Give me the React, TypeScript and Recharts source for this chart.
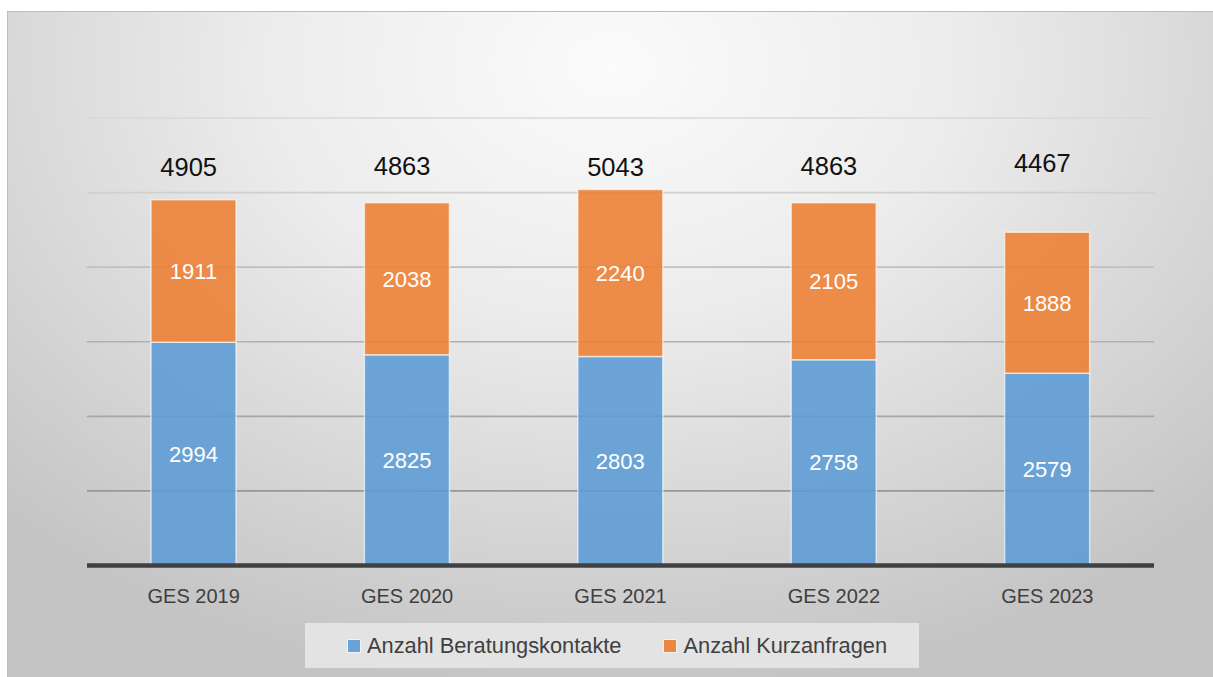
import React from "react";
import {
  ComposedChart,
  Bar,
  Line,
  XAxis,
  YAxis,
  CartesianGrid,
  LabelList,
  Legend,
} from "recharts";

const categories = ["GES 2019", "GES 2020", "GES 2021", "GES 2022", "GES 2023"];
const beratungskontakte = [2994, 2825, 2803, 2758, 2579];
const kurzanfragen = [1911, 2038, 2240, 2105, 1888];
const totals = [4905, 4863, 5043, 4863, 4467];
const totalLabelAnchor = [5350, 5355, 5345, 5355, 5395];
const yTicks = [0, 1000, 2000, 3000, 4000, 5000, 6000];

const SERIES_NAMES = ["Anzahl Beratungskontakte", "Anzahl Kurzanfragen"];
const COLORS = ["#5B9BD5", "#ED7D31"];

const data = categories.map((c, i) => ({
  name: c,
  beratung: beratungskontakte[i],
  kurz: kurzanfragen[i],
  total: totals[i],
  labelPos: totalLabelAnchor[i],
}));

const FONT = "'Liberation Sans', Arial, sans-serif";

const LegendContent = () => (
  <div
    style={{
      width: 614,
      height: 45,
      background: "#e3e3e3",
      display: "flex",
      alignItems: "center",
      boxSizing: "border-box",
      paddingLeft: 43,
      fontFamily: FONT,
      fontSize: 21.8,
      color: "#404040",
    }}
  >
    {SERIES_NAMES.map((n, i) => (
      <div
        key={n}
        style={{ display: "flex", alignItems: "center", marginRight: i === 0 ? 43 : 0 }}
      >
        <span
          style={{
            display: "inline-block",
            width: 12,
            height: 12,
            background: COLORS[i],
            opacity: 0.9,
            outline: "1px solid rgba(255,255,255,0.6)",
            marginRight: 7,
          }}
        />
        <span>{n}</span>
      </div>
    ))}
  </div>
);

export default function App() {
  return (
    <div
      style={{
        position: "absolute",
        left: 7,
        top: 11,
        width: 1206,
        height: 666,
        boxSizing: "border-box",
        borderTop: "1px solid #bdbdbd",
        borderLeft: "1px solid #bdbdbd",
        background:
          "radial-gradient(ellipse 72% 95% at 50% 8%, #fbfbfb 0%, #ececec 40%, #d8d8d8 70%, #c4c4c4 100%)",
        overflow: "hidden",
      }}
    >
      <ComposedChart
        width={1205}
        height={665}
        data={data}
        margin={{ top: 106, right: 59, left: 79, bottom: 81.5 }}
        barCategoryGap="30%"
      >
        <defs>
          <linearGradient
            id="gridGrad"
            gradientUnits="userSpaceOnUse"
            x1="0"
            y1="100"
            x2="0"
            y2="560"
          >
            <stop offset="0%" stopColor="#d9d9d9" />
            <stop offset="25%" stopColor="#cccccc" />
            <stop offset="40%" stopColor="#b6b6b6" />
            <stop offset="70%" stopColor="#a4a4a4" />
            <stop offset="100%" stopColor="#858585" />
          </linearGradient>
        </defs>
        <CartesianGrid
          vertical={false}
          stroke="url(#gridGrad)"
          strokeWidth={1.6}
        />
        <XAxis
          dataKey="name"
          tickLine={false}
          axisLine={{ stroke: "#404040", strokeWidth: 4.4 }}
          tick={{ fill: "#404040", fontSize: 20, fontFamily: FONT }}
          tickMargin={17}
          height={30}
        />
        <YAxis hide domain={[0, 6000]} ticks={yTicks} />
        <Legend
          layout="horizontal"
          verticalAlign="middle"
          align="center"
          content={<LegendContent />}
          wrapperStyle={{ position: "absolute", left: 297, top: 611, width: 614, height: 45 }}
        />
        <Bar
          dataKey="beratung"
          name={SERIES_NAMES[0]}
          stackId="a"
          fill={COLORS[0]}
          fillOpacity={0.88}
          stroke="#ffffff"
          strokeOpacity={0.6}
          strokeWidth={1.5}
          isAnimationActive={false}
        >
          <LabelList
            dataKey="beratung"
            position="center"
            fill="#ffffff"
            fontSize={22}
            fontFamily={FONT}
          />
        </Bar>
        <Bar
          dataKey="kurz"
          name={SERIES_NAMES[1]}
          stackId="a"
          fill={COLORS[1]}
          fillOpacity={0.88}
          stroke="#ffffff"
          strokeOpacity={0.6}
          strokeWidth={1.5}
          isAnimationActive={false}
        >
          <LabelList
            dataKey="kurz"
            position="center"
            fill="#ffffff"
            fontSize={22}
            fontFamily={FONT}
          />
        </Bar>
        <Line
          dataKey="labelPos"
          stroke="none"
          dot={false}
          activeDot={false}
          legendType="none"
          isAnimationActive={false}
        >
          <LabelList
            dataKey="total"
            position="center"
            fill="#111111"
            fontSize={25.5}
            fontFamily={FONT}
            dx={-5}
          />
        </Line>
      </ComposedChart>
    </div>
  );
}
